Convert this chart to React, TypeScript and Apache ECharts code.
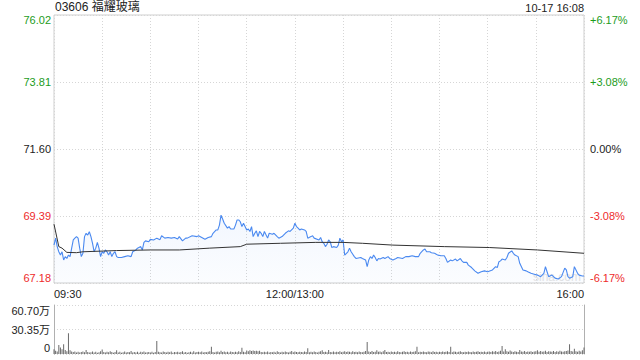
import React, { useEffect, useRef } from "react";
import * as echarts from "echarts";

const titleText = "03606 福耀玻璃";
const stampText = "10-17 16:08";
const watermarkText = "sina.com";
const prevClose = 71.6;
const priceMin = 67.18;
const priceMax = 76.02;
const priceStep = 2.21;
const pctMin = -6.17;
const pctMax = 6.17;
const pctStep = 3.085;
const volMax = 60.7;
const volStep = 30.35;
const timeLabels: Record<number, string> = { 0: "09:30", 150: "12:00/13:00", 330: "16:00" };

// minutes since 09:30 (lunch break removed)
const priceMinutes = [
  0, 1, 2, 3, 4, 5, 6, 7, 8, 9, 10, 11, 12, 13, 14, 15, 16, 17, 18, 19, 20, 21, 22, 23, 24, 25, 26, 27, 28, 29,
  30, 31, 32, 33, 34, 35, 36, 37, 38, 39, 40, 42, 44, 46, 48, 49, 51, 52, 54, 55, 56, 57, 59, 60, 62, 64, 66, 67, 69, 71,
  73, 75, 77, 78, 80, 82, 83, 86, 89, 90, 92, 94, 96, 98, 99, 101, 102, 103, 104, 105, 106, 108, 109, 110, 112, 113, 114, 115, 116, 117,
  118, 120, 121, 122, 123, 124, 125, 126, 127, 128, 129, 130, 131, 133, 134, 136, 137, 139, 140, 142, 144, 146, 147, 149, 150, 151, 152, 153, 154, 156,
  157, 158, 160, 161, 162, 165, 166, 167, 168, 169, 170, 171, 172, 173, 174, 176, 177, 178, 179, 180, 181, 183, 184, 185, 187, 188, 191, 192, 194, 195,
  196, 197, 198, 199, 200, 201, 202, 203, 205, 206, 208, 209, 211, 213, 214, 217, 219, 221, 223, 225, 227, 228, 230, 231, 232, 234, 235, 237, 238, 239,
  241, 243, 244, 245, 247, 248, 250, 251, 253, 254, 255, 257, 258, 260, 262, 264, 266, 268, 270, 273, 275, 276, 277, 278, 279, 281, 282, 283, 285, 286,
  287, 289, 290, 292, 294, 295, 297, 299, 301, 303, 305, 306, 307, 308, 310, 312, 314, 316, 318, 319, 320, 321, 323, 324, 326, 327, 329, 330,
];
const prices = [
  68.43, 68.66, 68.38, 68.21, 68.1, 68.21, 67.94, 68.05, 67.99, 68.1, 68.05, 68.33, 68.6, 68.66, 68.71, 68.66, 68.33, 68.05, 68.16, 68.71, 68.82, 68.76, 68.87, 68.71, 68.49, 68.21, 68.33, 68.52, 68.33, 68.05,
  68.21, 68.16, 68.27, 68.21, 68.1, 68.21, 68.05, 68.16, 68.21, 68.05, 68.02, 68.02, 68.05, 68.08, 68.05, 68.21, 68.27, 68.33, 68.38, 68.27, 68.52, 68.57, 68.54, 68.62, 68.6, 68.66, 68.61, 68.74, 68.66, 68.68,
  68.66, 68.68, 68.63, 68.71, 68.57, 68.66, 68.66, 68.74, 68.71, 68.74, 68.68, 68.62, 68.68, 68.71, 68.82, 68.93, 68.93, 69.09, 69.42, 69.29, 69.15, 68.99, 69.04, 68.96, 68.96, 69.09, 69.26, 69.26, 69.2, 69.04,
  69.15, 68.93, 68.96, 68.88, 69.04, 68.71, 68.82, 68.9, 68.71, 68.88, 68.82, 68.71, 68.88, 68.66, 68.82, 68.79, 68.82, 68.71, 68.66, 68.71, 68.82, 68.9, 68.88, 68.99, 69.15, 69.04, 68.99, 68.93, 68.96, 68.93,
  68.88, 68.66, 68.71, 68.74, 68.66, 68.6, 68.68, 68.54, 68.49, 68.38, 68.46, 68.6, 68.54, 68.35, 68.38, 68.35, 68.43, 68.66, 68.54, 68.6, 68.1, 68.21, 68.33, 68.21, 68.05, 67.99, 68.02, 67.99, 67.94, 67.72,
  67.94, 68.05, 67.99, 68.1, 68.02, 67.91, 67.99, 67.97, 68.02, 67.99, 68.05, 67.99, 67.94, 67.99, 68.02, 67.99, 68.05, 68.05, 68.08, 68.05, 68.05, 68.16, 68.27, 68.3, 68.21, 68.21, 68.18, 68.16, 68.13, 68.1,
  68.08, 68.08, 67.99, 67.86, 67.94, 67.91, 67.97, 67.91, 67.99, 67.91, 67.86, 67.86, 67.77, 67.69, 67.58, 67.5, 67.55, 67.58, 67.55, 67.61, 67.72, 67.69, 67.88, 67.91, 67.97, 67.94, 68.02, 68.16, 68.24, 68.16,
  68.1, 68.05, 67.83, 67.61, 67.58, 67.55, 67.5, 67.47, 67.44, 67.39, 67.5, 67.72, 67.55, 67.39, 67.44, 67.34, 67.31, 67.39, 67.67, 67.61, 67.39, 67.34, 67.39, 67.72, 67.5, 67.44, 67.41, 67.41,
];

const avgMinutes = [0, 3, 5, 8, 14, 18, 39, 60, 78, 97, 116, 120, 141, 163, 180, 192, 211, 243, 271, 301, 330];
const avgPrices = [69.12, 68.38, 68.33, 68.19, 68.18, 68.21, 68.25, 68.27, 68.27, 68.33, 68.38, 68.46, 68.49, 68.52, 68.52, 68.49, 68.43, 68.38, 68.35, 68.27, 68.16];

// volume per minute, in 万 shares
const volumes = [
  5.8, 4.0, 3.0, 11.1, 8.0, 6.0, 12.0, 5.0, 3.5, 25.6, 4.5, 3.0, 2.5, 3.2, 2.0, 2.8, 1.8, 2.4, 3.0, 2.2, 5.0, 2.6, 1.9, 2.3, 3.1, 2.0, 2.7, 1.6, 2.2, 3.4,
  5.7, 2.5, 1.8, 2.9, 2.1, 3.3, 2.4, 1.7, 2.6, 4.5, 2.0, 2.8, 1.5, 2.3, 3.0, 1.9, 2.5, 2.2, 3.6, 1.8, 2.4, 2.0, 2.9, 1.6, 2.7, 2.1, 3.2, 1.9, 2.3, 2.6,
  2.0, 2.8, 1.7, 2.4, 16.0, 2.9, 2.2, 1.8, 3.1, 2.5, 1.9, 2.7, 2.1, 3.0, 1.6, 2.4, 2.2, 2.9, 1.8, 2.5, 3.3, 2.0, 2.6, 1.7, 2.3, 2.8, 2.0, 3.5, 1.9, 2.4,
  2.7, 2.1, 3.0, 1.8, 2.5, 2.2, 2.9, 3.4, 9.0, 2.6, 2.0, 2.8, 3.1, 2.3, 4.0, 2.6, 3.2, 2.2, 2.7, 1.9, 3.0, 2.4, 2.1, 2.8, 2.3, 3.3, 2.6, 7.8, 2.9, 2.2,
  4.2, 3.5, 4.5, 3.8, 4.4, 3.6, 4.0, 3.3, 3.9, 2.5, 2.1, 2.8, 2.2, 3.0, 1.8, 2.6, 2.3, 2.9, 2.0, 3.4, 2.4, 1.9, 2.7, 2.2, 3.1, 2.5, 2.0, 2.8, 3.6, 2.3,
  3.0, 2.4, 2.1, 2.9, 2.5, 2.2, 3.2, 2.6, 7.0, 2.3, 2.8, 2.1, 3.1, 2.5, 2.0, 2.7, 3.3, 4.5, 2.4, 2.9, 2.2, 5.0, 2.6, 2.3, 3.0, 2.1, 2.8, 2.4, 3.4, 2.2,
  2.9, 3.5, 2.4, 3.1, 2.7, 2.3, 3.3, 2.6, 2.9, 2.2, 3.0, 2.5, 2.1, 2.8, 3.6, 15.0, 3.2, 2.6, 3.8, 2.4, 2.9, 4.5, 2.7, 3.1, 2.3, 3.4, 5.0, 2.6, 2.9, 2.2,
  3.0, 2.5, 2.8, 2.2, 3.3, 2.6, 2.1, 2.9, 3.5, 2.4, 2.7, 2.2, 3.1, 2.5, 2.8, 3.4, 9.0, 2.3, 2.9, 2.6, 3.2, 2.4, 2.1, 3.0, 2.7, 2.3, 3.3, 2.5, 2.8, 2.2,
  2.9, 2.5, 3.2, 2.4, 2.8, 3.5, 2.6, 9.0, 2.3, 3.0, 2.7, 2.2, 2.9, 3.4, 2.5, 2.1, 2.8, 2.4, 3.1, 2.6, 2.2, 3.0, 2.5, 2.8, 3.3, 2.4, 2.9, 2.6, 3.2, 2.3,
  2.7, 3.0, 2.4, 3.4, 2.8, 3.6, 2.5, 3.2, 4.0, 10.0, 3.1, 6.0, 3.3, 2.7, 4.2, 3.0, 2.6, 3.5, 2.9, 2.4, 5.0, 3.2, 2.7, 3.8, 2.5, 3.1, 2.8, 3.4, 2.6, 3.0,
  3.3, 4.5, 2.9, 3.6, 2.7, 3.2, 3.9, 2.6, 3.4, 3.0, 2.8, 3.7, 2.5, 3.3, 2.9, 4.1, 3.0, 2.7, 3.5, 3.8, 4.4, 12.0, 3.6, 3.1, 6.5, 3.4, 2.9, 4.0, 3.2, 4.6, 8.0,
];

const FONT = "'Liberation Sans', Arial, 'Noto Sans CJK SC', sans-serif";
const GREEN = "#1c9c1c";
const RED = "#ee2b2b";
const DARK = "#222";
const GRID_LINE = "#cfcfcf";
const DOT_LINE = "#d6d6d6";

function edgeRich(shift: number) {
  const base = { fontSize: 11, fontFamily: FONT };
  return {
    gTop: { ...base, color: GREEN, padding: [shift * 2, 0, 0, 0] },
    gMid: { ...base, color: GREEN },
    kMid: { ...base, color: DARK },
    kTop: { ...base, color: DARK, padding: [shift * 2, 0, 0, 0] },
    kBot: { ...base, color: DARK, padding: [0, 0, shift * 2, 0] },
    rMid: { ...base, color: RED },
    rBot: { ...base, color: RED, padding: [0, 0, shift * 2, 0] },
  };
}

function tag(color: string, pos: string, text: string) {
  return `{${color}${pos}|${text}}`;
}

export default function App() {
  const ref = useRef<HTMLDivElement>(null);

  useEffect(() => {
    if (!ref.current) return;
    const chart = echarts.init(ref.current, null, { renderer: "svg" });

    const priceData = priceMinutes.map((m, i) => [m, prices[i]]);
    const avgData = avgMinutes.map((m, i) => [m, avgPrices[i]]);
    const volData = volumes.map((v, i) => [i, v]);

    const dotted = { color: DOT_LINE, type: [1, 2] as any, width: 1 };

    chart.setOption({
      animation: false,
      textStyle: { fontFamily: FONT },
      grid: [
        { left: 54, right: 56, top: 15, height: 268, show: true, borderColor: GRID_LINE, borderWidth: 1 },
        { left: 54, right: 56, top: 305, height: 49 },
      ],
      graphic: [
        { type: "text", left: 55, top: 1, style: { text: titleText, fontSize: 12, fill: DARK, fontFamily: FONT } },
        { type: "text", right: 56, top: 2, style: { text: stampText, fontSize: 11, fill: DARK, fontFamily: FONT } },
        { type: "text", left: 533, top: 271, z: 0, style: { text: watermarkText, fontSize: 12, fill: "#e3e3e3", fontFamily: FONT } },
      ],
      xAxis: [
        {
          gridIndex: 0,
          type: "value",
          min: 0,
          max: 330,
          interval: 30,
          axisLine: { show: false },
          axisTick: { show: false },
          splitLine: { show: true, lineStyle: dotted },
          axisLabel: {
            fontSize: 11,
            color: DARK,
            margin: 5,
            fontFamily: FONT,
            showMinLabel: true,
            showMaxLabel: true,
            alignMinLabel: "left",
            alignMaxLabel: "right",
            formatter: (v: number) => timeLabels[v] ?? "",
          },
        },
        { gridIndex: 1, type: "value", min: 0, max: 330, show: false, splitLine: { show: false } },
      ],
      yAxis: [
        {
          gridIndex: 0,
          type: "value",
          min: priceMin,
          max: priceMax,
          interval: priceStep,
          axisLine: { show: false },
          axisTick: { show: false },
          splitLine: { show: true, lineStyle: dotted },
          axisLabel: {
            margin: 3,
            formatter: (v: number) => {
              const s = v.toFixed(2);
              const c = v > prevClose + 1e-6 ? "g" : v < prevClose - 1e-6 ? "r" : "k";
              const pos = Math.abs(v - priceMax) < 1e-6 ? "Top" : Math.abs(v - priceMin) < 1e-6 ? "Bot" : "Mid";
              return tag(c, pos, s);
            },
            rich: edgeRich(5),
          },
        },
        {
          gridIndex: 0,
          type: "value",
          position: "right",
          min: pctMin,
          max: pctMax,
          interval: pctStep,
          axisLine: { show: false },
          axisTick: { show: false },
          splitLine: { show: false },
          axisLabel: {
            margin: 6,
            formatter: (v: number) => {
              const t = Math.trunc(Math.round(v * 1000) / 10) / 100;
              const s = (t > 0 ? "+" : "") + t.toFixed(2) + "%";
              const c = v > 1e-6 ? "g" : v < -1e-6 ? "r" : "k";
              const pos = Math.abs(v - pctMax) < 1e-6 ? "Top" : Math.abs(v - pctMin) < 1e-6 ? "Bot" : "Mid";
              return tag(c, pos, s);
            },
            rich: edgeRich(5),
          },
        },
        {
          gridIndex: 1,
          type: "value",
          min: 0,
          max: volMax,
          interval: volStep,
          axisLine: { show: true, lineStyle: { color: "#b0b0b0", width: 1 } },
          axisTick: { show: false },
          splitLine: { show: true, lineStyle: dotted },
          axisLabel: {
            margin: 4,
            formatter: (v: number) => {
              const pos = Math.abs(v - volMax) < 1e-6 ? "Top" : v === 0 ? "Bot" : "Mid";
              const s = v === 0 ? "0" : v.toFixed(2) + "万";
              return tag("k", pos, s);
            },
            rich: edgeRich(6),
          },
        },
        {
          gridIndex: 1,
          type: "value",
          position: "right",
          min: 0,
          max: volMax,
          axisLine: { show: true, lineStyle: { color: "#b0b0b0", width: 1 } },
          axisTick: { show: false },
          axisLabel: { show: false },
          splitLine: { show: false },
        },
      ],
      series: [
        {
          name: "price",
          type: "line",
          xAxisIndex: 0,
          yAxisIndex: 0,
          data: priceData,
          symbol: "none",
          lineStyle: { color: "#4a89f0", width: 1.1 },
          areaStyle: {
            origin: "start",
            color: new echarts.graphic.LinearGradient(0, 0, 0, 1, [
              { offset: 0, color: "rgba(77,140,240,0.10)" },
              { offset: 1, color: "rgba(77,140,240,0.03)" },
            ]),
          },
          z: 3,
        },
        {
          name: "avg",
          type: "line",
          xAxisIndex: 0,
          yAxisIndex: 0,
          data: avgData,
          symbol: "none",
          lineStyle: { color: "#333", width: 1 },
          z: 4,
        },
        {
          name: "volume",
          type: "bar",
          xAxisIndex: 1,
          yAxisIndex: 2,
          data: volData,
          barWidth: 1,
          itemStyle: { color: "#6a6a6a" },
        },
      ],
    });

    return () => chart.dispose();
  }, []);

  return (
    <div
      ref={ref}
      style={{ position: "fixed", left: 0, top: 0, width: 640, height: 360, background: "#fff" }}
    />
  );
}
